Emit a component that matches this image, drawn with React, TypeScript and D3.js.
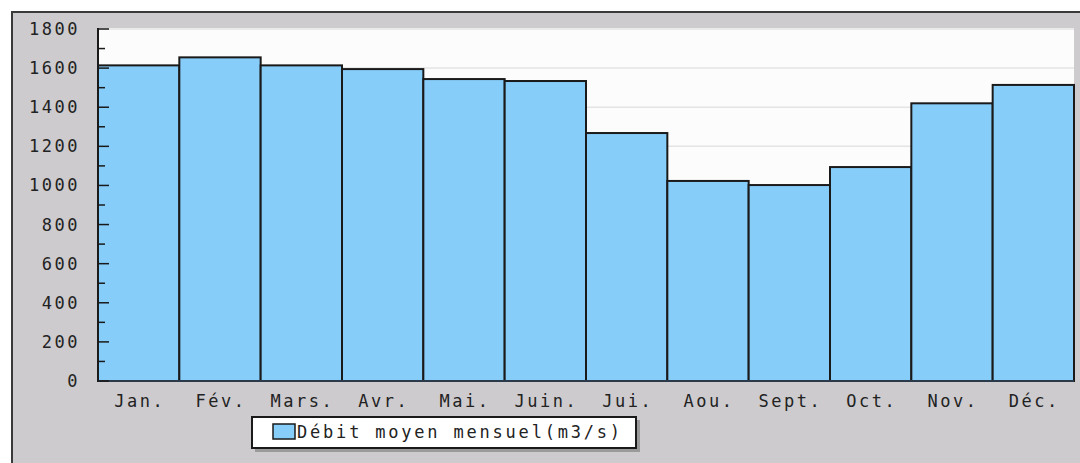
import React from "react";
import * as d3 from "d3";

const months = ["Jan.", "Fév.", "Mars.", "Avr.", "Mai.", "Juin.", "Jui.", "Aou.", "Sept.", "Oct.", "Nov.", "Déc."];
const debit = [1614, 1655, 1614, 1595, 1544, 1534, 1268, 1023, 1002, 1094, 1420, 1514];
const yTicks = [0, 200, 400, 600, 800, 1000, 1200, 1400, 1600, 1800];
const yMinor = [100, 300, 500, 700, 900, 1100, 1300, 1500, 1700];
const legendLabel = "Débit moyen mensuel(m3/s)";

const W = 1080, H = 463;
const left = 98, right = 1074, top = 29, bottom = 381;
const font = "'DejaVu Sans Mono', monospace";

export default function App() {
  const x = d3.scaleBand<string>().domain(months).range([left, right]).padding(0);
  const y = d3.scaleLinear().domain([0, 1800]).range([bottom, top]);
  return (
    <svg width={W} height={H} style={{ position: "absolute", left: 0, top: 0, display: "block" }}>
      <rect x={0} y={0} width={W} height={H} fill="#ffffff" />
      <rect x={12} y={12} width={W + 10} height={H + 10} fill="#cdcbce" stroke="#3a3a3a" strokeWidth={2} />
      <rect x={left} y={top - 1} width={right - left} height={bottom - top + 1} fill="#fbfcfb" />
      {yTicks.map((t) => (
        <line key={"g" + t} x1={left} x2={right} y1={y(t)} y2={y(t)} stroke="#e4e4e4" strokeWidth={1.5} />
      ))}
      {debit.map((v, i) => (
        <rect key={months[i]} x={x(months[i])!} y={y(v)} width={x.bandwidth()} height={bottom - y(v)}
          fill="#87cdfa" stroke="#1a1a1a" strokeWidth={2} />
      ))}
      <line x1={left} x2={left} y1={top - 1} y2={bottom} stroke="#1a1a1a" strokeWidth={2} />
      <line x1={left} x2={right} y1={bottom} y2={bottom} stroke="#2a3a4a" strokeWidth={2} />
      {yTicks.map((t) => (
        <g key={"t" + t}>
          <line x1={left} x2={left + 11} y1={y(t)} y2={y(t)} stroke="#1a1a1a" strokeWidth={1.5} />
          <text x={80} y={y(t) + 6} textAnchor="end" fontFamily={font} fontSize={17} letterSpacing={2.5} fill="#222">{t}</text>
        </g>
      ))}
      {yMinor.map((t) => (
        <line key={"m" + t} x1={left} x2={left + 7} y1={y(t)} y2={y(t)} stroke="#1a1a1a" strokeWidth={1.5} />
      ))}
      {months.map((m) => (
        <text key={"x" + m} x={x(m)! + x.bandwidth() / 2 + 1} y={407} textAnchor="middle" fontFamily={font} fontSize={17} letterSpacing={2.5} fill="#222">{m}</text>
      ))}
      <rect x={255} y={420} width={385} height={32} fill="#9a9a9a" />
      <rect x={252} y={417} width={384} height={31} fill="#ffffff" stroke="#1a1a1a" strokeWidth={2} />
      <rect x={273} y={424} width={22} height={15} fill="#87cdfa" stroke="#1a1a1a" strokeWidth={1.5} />
      <text x={297} y={438} fontFamily={font} fontSize={17} letterSpacing={2.8} fill="#222">{legendLabel}</text>
    </svg>
  );
}
